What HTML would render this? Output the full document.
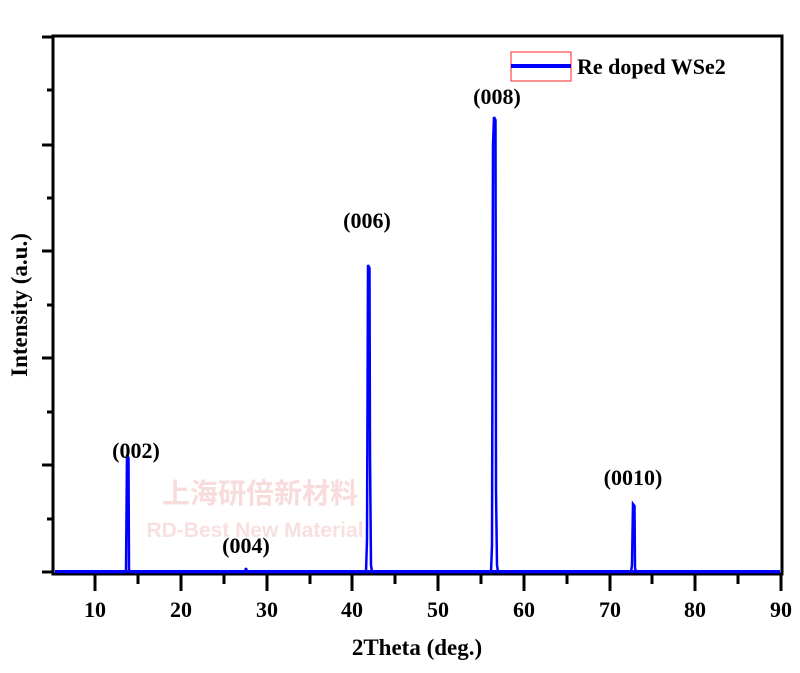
<!DOCTYPE html><html><head><style>body{margin:0;background:#fff}</style></head><body>
<svg width="800" height="668" xmlns="http://www.w3.org/2000/svg" font-family="Liberation Serif, serif" font-weight="bold">
<text x="260" y="503" font-size="28" fill="#f8dcdc" font-family="Liberation Sans, Noto Sans CJK SC, sans-serif" text-anchor="middle">上海研倍新材料</text>
<text x="255" y="537" font-size="21" fill="#f9e0e0" font-family="Liberation Sans, sans-serif" text-anchor="middle">RD-Best New Material</text>
<rect x="53" y="36" width="729" height="538" fill="none" stroke="#000" stroke-width="3"/>
<g stroke="#000" stroke-width="3">
<line x1="42" y1="37" x2="53" y2="37"/><line x1="42" y1="145" x2="53" y2="145"/><line x1="42" y1="251" x2="53" y2="251"/><line x1="42" y1="358" x2="53" y2="358"/><line x1="42" y1="465" x2="53" y2="465"/><line x1="42" y1="572" x2="53" y2="572"/>
<line x1="47" y1="90" x2="53" y2="90"/><line x1="47" y1="198" x2="53" y2="198"/><line x1="47" y1="305" x2="53" y2="305"/><line x1="47" y1="412" x2="53" y2="412"/><line x1="47" y1="519" x2="53" y2="519"/>
<line x1="95" y1="574" x2="95" y2="591"/><line x1="181" y1="574" x2="181" y2="591"/><line x1="267" y1="574" x2="267" y2="591"/><line x1="352" y1="574" x2="352" y2="591"/><line x1="438" y1="574" x2="438" y2="591"/><line x1="524" y1="574" x2="524" y2="591"/><line x1="610" y1="574" x2="610" y2="591"/><line x1="695" y1="574" x2="695" y2="591"/><line x1="781" y1="574" x2="781" y2="591"/>
<line x1="138" y1="574" x2="138" y2="584"/><line x1="224" y1="574" x2="224" y2="584"/><line x1="310" y1="574" x2="310" y2="584"/><line x1="395" y1="574" x2="395" y2="584"/><line x1="481" y1="574" x2="481" y2="584"/><line x1="567" y1="574" x2="567" y2="584"/><line x1="652" y1="574" x2="652" y2="584"/><line x1="738" y1="574" x2="738" y2="584"/>
</g>
<g font-size="22" text-anchor="middle">
<text x="95" y="617">10</text><text x="181" y="617">20</text><text x="267" y="617">30</text><text x="352" y="617">40</text><text x="438" y="617">50</text><text x="524" y="617">60</text><text x="610" y="617">70</text><text x="695" y="617">80</text><text x="781" y="617">90</text>
</g>
<text x="417" y="655" font-size="23" text-anchor="middle">2Theta (deg.)</text>
<text transform="translate(27,305) rotate(-90)" font-size="23" text-anchor="middle">Intensity (a.u.)</text>
<polyline fill="none" stroke="#0000ff" stroke-width="2.5" points="55,572 125,572 126,570 127,455 128.5,458 129,570 130,572 245,572 246,568 247,572 366,572 367,540 368,265 369.5,268 370,455 371,565 372,572 491,572 492,545 493,145 494,117 495.5,120 496,490 497,565 498,572 631,572 632,565 633,504 634.5,506 635,568 636,572 780,572"/>
<line x1="55" y1="571.5" x2="780" y2="571.5" stroke="#0000ff" stroke-width="3"/>
<g font-size="22" text-anchor="middle">
<text x="136" y="458">(002)</text><text x="246" y="553">(004)</text><text x="367" y="228">(006)</text><text x="497" y="104">(008)</text><text x="633" y="485">(0010)</text>
</g>
<rect x="511" y="52" width="60" height="29" fill="none" stroke="#ff2020" stroke-width="1"/>
<line x1="511" y1="66" x2="571" y2="66" stroke="#0000ff" stroke-width="4"/>
<text x="577" y="74" font-size="22">Re doped WSe2</text>
</svg>
</body></html>
